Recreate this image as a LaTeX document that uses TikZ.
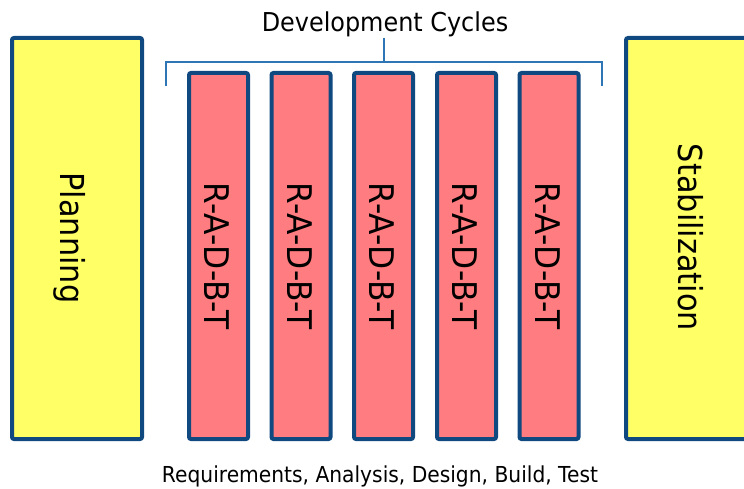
\documentclass[tikz,border=0pt]{standalone}
\usepackage{fontspec}
\setmainfont[FakeStretch=0.92]{DejaVu Sans}
\definecolor{boxborder}{RGB}{16,72,128}
\definecolor{yellowfill}{RGB}{255,255,102}
\definecolor{redfill}{RGB}{255,124,128}
\definecolor{bracketblue}{RGB}{46,117,182}
\tikzset{
  phasebox/.style={draw=boxborder, line width=4pt, fill=yellowfill, rounded corners=2pt,
    minimum width=130pt, minimum height=401pt, inner sep=0pt, outer sep=0pt},
  cyclebox/.style={draw=boxborder, line width=4pt, fill=redfill, rounded corners=2pt,
    minimum width=59pt, minimum height=366pt, inner sep=0pt, outer sep=0pt},
  bigtext/.style={rotate=-90, anchor=base, inner sep=0pt, font=\fontsize{33}{36}\selectfont},
  cyctext/.style={rotate=-90, anchor=base, inner sep=0pt, font=\fontsize{34}{38}\selectfont},
  bracketline/.style={draw=bracketblue, line width=1.8pt}
}
\begin{document}
\begin{tikzpicture}[x=1pt,y=-1pt]
\useasboundingbox (0,0) rectangle (744,489);
\clip (0,0) rectangle (744,489);
% phases
\node[phasebox] (plan) at (77,238.5) {};
\node[phasebox] (stab) at (691,238.5) {};
\node[bigtext] (plantxt) at (60,238) {Planning};
\node[bigtext] (stabtxt) at (678,237.5) {Stabilization};
% cycles
\foreach \i/\cx in {1/218.5,2/301,3/383.5,4/466.5,5/549}{
  \node[cyclebox] (c\i) at (\cx,256) {};
  \node[cyctext] (t\i) at (\cx-14,256) {R-A-D-B-T};
}
% bracket
\node[inner sep=0pt, anchor=base, font=\fontsize{26}{30}\selectfont] (title) at (385,32) {Development Cycles};
\coordinate (bl) at (166,86);
\coordinate (br) at (602,86);
\coordinate (bt) at (384,38);
\draw[bracketline] (bl) -- (bl |- 0,62) -- (br |- 0,62) -- (br);
\draw[bracketline] (bt) -- (bt |- 0,62);
% bottom text
\node[inner sep=0pt, anchor=base, font=\fontsize{22}{25}\selectfont] (legend) at (380,482) {Requirements, Analysis, Design, Build, Test};
\end{tikzpicture}
\end{document}
